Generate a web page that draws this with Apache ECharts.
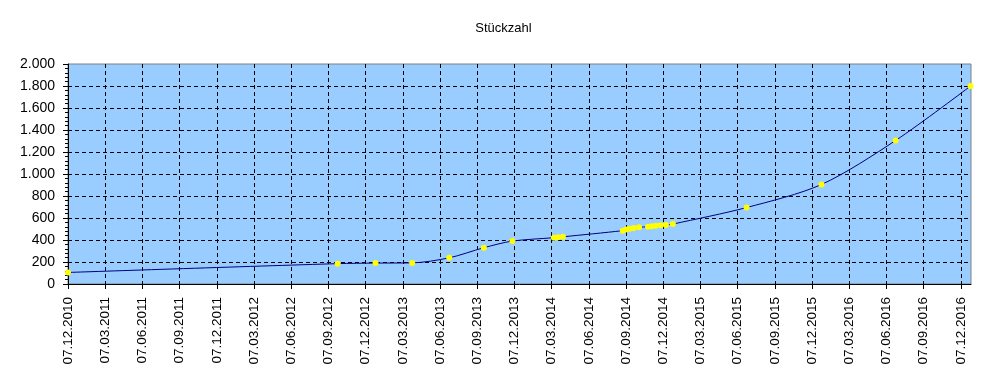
<!DOCTYPE html>
<html>
<head>
<meta charset="utf-8">
<script src="https://cdn.jsdelivr.net/npm/echarts@6/dist/echarts.min.js"></script>
<style>
html,body{margin:0;padding:0;background:#fff;}
#chart{width:1007px;height:376px;}
</style>
</head>
<body>
<div id="chart"></div>
<script>
const titleText = 'Stückzahl';
const dates = ['07.12.2010','29.09.2012','31.12.2012','31.03.2013','30.06.2013','23.09.2013','02.12.2013',
  '14.03.2014','24.03.2014','05.04.2014','30.08.2014','07.09.2014','16.09.2014','26.09.2014','09.10.2014',
  '31.10.2014','09.11.2014','19.11.2014','01.12.2014','14.12.2014','31.12.2014','30.06.2015','31.12.2015',
  '30.06.2016','31.12.2016'];
const values = [105,185,190,192,238,330,390,421,425,429,485,495,503,510,516,520,525,530,533,537,545,695,905,1305,1800];
const xTickLabels = ['07.12.2010','07.03.2011','07.06.2011','07.09.2011','07.12.2011','07.03.2012','07.06.2012',
  '07.09.2012','07.12.2012','07.03.2013','07.06.2013','07.09.2013','07.12.2013','07.03.2014','07.06.2014',
  '07.09.2014','07.12.2014','07.03.2015','07.06.2015','07.09.2015','07.12.2015','07.03.2016','07.06.2016',
  '07.09.2016','07.12.2016'];
const yTickLabels = ['0','200','400','600','800','1.000','1.200','1.400','1.600','1.800','2.000'];
const axisStart = '07.12.2010';
const axisEnd = '01.01.2017';

function parseDate(d){const p=d.split('.').map(Number);return Date.UTC(p[2],p[1]-1,p[0]);}
const origin = parseDate(axisStart);
const xInterval = (parseDate(xTickLabels[xTickLabels.length-1]) - origin) / (xTickLabels.length-1);
const seriesData = dates.map((d,i)=>[parseDate(d)-origin, values[i]]);

const chart = echarts.init(document.getElementById('chart'), null, {renderer:'canvas'});
chart.setOption({
  animation:false,
  backgroundColor:'#ffffff',
  title:{text:titleText,left:'center',top:17,textStyle:{fontFamily:'Liberation Sans, Arial, sans-serif',fontSize:13,fontWeight:'normal',color:'#000'}},
  grid:{left:68,top:64,right:36,bottom:92,show:true,backgroundColor:'#99CCFF',borderColor:'#808080',borderWidth:1,containLabel:false},
  xAxis:{
    type:'value',min:0,max:parseDate(axisEnd)-origin,interval:xInterval,
    axisLine:{show:true,onZero:false,lineStyle:{color:'#000',width:1}},
    axisTick:{show:true,length:5,lineStyle:{color:'#000'}},
    splitLine:{show:true,showMinLine:false,showMaxLine:false,lineStyle:{color:'#000',type:[4,3],width:1}},
    axisLabel:{rotate:90,margin:13,fontFamily:'Liberation Sans, Arial, sans-serif',fontSize:13.5,color:'#000',showMaxLabel:false,
      formatter:function(v){const i=Math.round(v/xInterval);return (Math.abs(v-i*xInterval)<1000 && i<xTickLabels.length)?xTickLabels[i]:'';}}
  },
  yAxis:{
    type:'value',min:0,max:2000,interval:200,
    axisLine:{show:true,lineStyle:{color:'#000',width:1}},
    axisTick:{show:true,length:5,lineStyle:{color:'#000'}},
    minorTick:{show:true,splitNumber:5,length:3,lineStyle:{color:'#000'}},
    splitLine:{show:true,showMinLine:false,showMaxLine:false,lineStyle:{color:'#000',type:[4,3],width:1}},
    axisLabel:{margin:13,fontFamily:'Liberation Sans, Arial, sans-serif',fontSize:14,color:'#000',
      formatter:function(v){return yTickLabels[Math.round(v/200)];}}
  },
  series:[{
    type:'line',data:seriesData,smooth:0.3,
    lineStyle:{color:'#000080',width:1},
    symbol:'circle',symbolSize:6,
    itemStyle:{color:'#FFFF00',borderWidth:0},
    z:3
  }]
});
</script>
</body>
</html>
